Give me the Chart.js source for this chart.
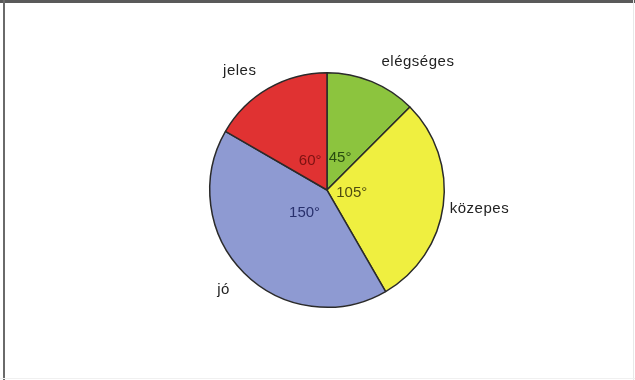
<!DOCTYPE html>
<html>
<head>
<meta charset="utf-8">
<script src="https://cdn.jsdelivr.net/npm/chart.js@4/dist/chart.umd.min.js"></script>
<style>
  html, body { margin: 0; padding: 0; background: #fff; }
  #wrap { position: relative; width: 635px; height: 380px; overflow: hidden; }
  #c { position: absolute; left: 0; top: 0; }
  .bt { position: absolute; left: 0; top: 0; width: 635px; height: 3px; background: #5a5a5a; }
  .bl { position: absolute; left: 3px; top: 0; width: 2px; height: 380px; background: #6a6a6a; }
  .br { position: absolute; left: 633px; top: 0; width: 1px; height: 380px; background: #e8e8e8; }
  .bb { position: absolute; left: 0; top: 378px; width: 635px; height: 1px; background: #f0f0f0; }
</style>
</head>
<body>
<div id="wrap">
  <canvas id="c" width="635" height="380"></canvas>
  <div class="bt"></div><div class="bl"></div><div class="br"></div><div class="bb"></div>
</div>
<script>
// Data
const categories = ['elégséges', 'közepes', 'jó', 'jeles'];
const degrees = [45, 105, 150, 60];
const valueLabels = ['45°', '105°', '150°', '60°'];

// Styles
const sliceColors = ['#8cc43e', '#efef40', '#8e9ad2', '#e03232'];
const innerLabelColors = ['#284c10', '#4e4c10', '#28306c', '#7c1212'];

const labelPlugin = {
  id: 'sliceLabels',
  afterDatasetsDraw(chart) {
    const ctx = chart.ctx;
    const meta = chart.getDatasetMeta(0);
    meta.data.forEach((arc, i) => {
      const p = arc.getProps(['x', 'y', 'startAngle', 'endAngle', 'outerRadius'], true);
      const mid = (p.startAngle + p.endAngle) / 2;
      const cx = Math.cos(mid), sy = Math.sin(mid);
      const R = p.outerRadius;
      ctx.save();
      // outer category label
      const dOut = R * (1.03 + 0.2 * Math.abs(sy));
      ctx.font = '15px "Liberation Sans", Arial, sans-serif';
      ctx.letterSpacing = '0.5px';
      ctx.fillStyle = '#222222';
      ctx.textBaseline = 'middle';
      ctx.textAlign = cx >= 0 ? 'left' : 'right';
      ctx.fillText(categories[i], p.x + dOut * cx, p.y + dOut * sy + 3);
      // inner value label
      const dIn = R * (0.2 + 0.1 * Math.abs(sy));
      ctx.letterSpacing = '0px';
      ctx.font = '15px "Liberation Sans", Arial, sans-serif';
      ctx.fillStyle = innerLabelColors[i];
      ctx.textAlign = 'center';
      ctx.fillText(valueLabels[i], p.x + dIn * cx, p.y + dIn * sy);
      ctx.restore();
    });
  }
};

new Chart(document.getElementById('c'), {
  type: 'pie',
  data: {
    labels: categories,
    datasets: [{
      data: degrees,
      backgroundColor: sliceColors,
      borderColor: '#2a2a2a',
      borderWidth: 1.5
    }]
  },
  options: {
    responsive: false,
    animation: false,
    layout: { padding: { top: 72, bottom: 72, left: 100, right: 81 } },
    plugins: { legend: { display: false }, tooltip: { enabled: false } }
  },
  plugins: [labelPlugin]
});
</script>
</body>
</html>
